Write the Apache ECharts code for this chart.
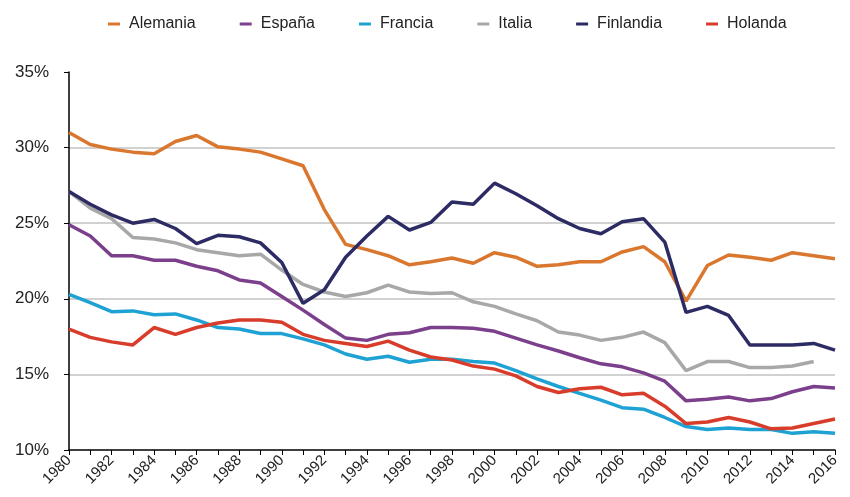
<!DOCTYPE html>
<html><head><meta charset="utf-8">
<script src="https://cdn.jsdelivr.net/npm/echarts@6/dist/echarts.min.js"></script>
<style>html,body{margin:0;padding:0;background:#fff}#c{width:850px;height:497px}</style>
</head><body><div id="c"></div>
<script>
const years = [];
for (let y = 1980; y <= 2016; y++) years.push(String(y));
const seriesNames = ['Alemania','España','Francia','Italia','Finlandia','Holanda'];
const colors = ['#DA772E','#7B3F8B','#1EA2D4','#A9A8A9','#2D2B63','#D83D2B'];
const alemania = [31.0,30.2,29.9,29.7,29.6,30.4,30.8,30.05,29.9,29.7,29.25,28.8,25.9,23.6,23.25,22.85,22.25,22.45,22.7,22.35,23.05,22.75,22.15,22.25,22.45,22.45,23.1,23.45,22.45,19.85,22.2,22.9,22.75,22.55,23.05,22.85,22.65];
const espana = [24.9,24.15,22.85,22.85,22.55,22.55,22.15,21.85,21.25,21.05,20.15,19.25,18.3,17.4,17.25,17.65,17.75,18.1,18.1,18.05,17.85,17.4,16.95,16.55,16.1,15.7,15.5,15.1,14.55,13.25,13.35,13.5,13.25,13.4,13.85,14.2,14.1];
const francia = [20.3,19.75,19.15,19.2,18.95,19.0,18.6,18.1,18.0,17.7,17.7,17.35,16.95,16.35,16.0,16.2,15.8,16.0,16.0,15.85,15.75,15.25,14.7,14.2,13.75,13.3,12.8,12.7,12.15,11.55,11.35,11.45,11.35,11.35,11.1,11.2,11.1];
const italia = [27.1,26.0,25.3,24.05,23.95,23.7,23.25,23.05,22.85,22.95,21.9,20.95,20.45,20.15,20.4,20.9,20.45,20.35,20.4,19.8,19.5,19.0,18.55,17.8,17.6,17.25,17.45,17.8,17.1,15.25,15.85,15.85,15.45,15.45,15.55,15.85,null];
const finlandia = [27.1,26.25,25.55,25.0,25.25,24.65,23.65,24.2,24.1,23.7,22.4,19.7,20.6,22.75,24.15,25.45,24.55,25.05,26.4,26.25,27.65,26.95,26.15,25.3,24.65,24.3,25.1,25.3,23.75,19.1,19.5,18.9,16.95,16.95,16.95,17.05,16.6];
const holanda = [18.0,17.45,17.15,16.95,18.1,17.65,18.1,18.4,18.6,18.6,18.45,17.65,17.25,17.05,16.85,17.2,16.6,16.15,15.95,15.55,15.35,14.9,14.2,13.8,14.05,14.15,13.65,13.75,12.9,11.75,11.85,12.15,11.85,11.4,11.45,11.75,12.05];
const yTicks = [10,15,20,25,30,35];
const dataArr = [alemania, espana, francia, italia, finlandia, holanda];

const FONT = '"Liberation Sans", Arial, sans-serif';
const chart = echarts.init(document.getElementById('c'));
chart.setOption({
  animation: false,
  color: colors,
  legend: {
    top: 11, left: 103, itemGap: 44, itemWidth: 12, itemHeight: 3,
    icon: 'rect',
    textStyle: { fontFamily: FONT, fontSize: 16, color: '#222', padding: [0, 0, 0, 4] },
    data: seriesNames
  },
  grid: { left: 69, right: 15, top: 72, bottom: 47 },
  xAxis: {
    type: 'category', boundaryGap: false, data: years,
    axisLine: { lineStyle: { color: '#000', width: 1.5 } },
    axisTick: { show: true, length: 5, interval: 0, lineStyle: { color: '#000' } },
    axisLabel: { interval: 1, rotate: 45, fontFamily: FONT, fontSize: 15, color: '#222', margin: 8 },
    splitLine: { show: false }
  },
  yAxis: {
    type: 'value', min: yTicks[0], max: yTicks[yTicks.length-1], interval: 5,
    axisLine: { show: true, lineStyle: { color: '#000', width: 1.5 } },
    axisTick: { show: true, length: 5, lineStyle: { color: '#000' } },
    axisLabel: { formatter: '{value}%', fontFamily: FONT, fontSize: 17, color: '#222', margin: 20 },
    splitLine: { show: true, lineStyle: { color: ['rgba(0,0,0,0)','#c2c2c2','#c2c2c2','#c2c2c2','#c2c2c2','rgba(0,0,0,0)'], width: 1.5 } }
  },
  series: seriesNames.map((n, i) => ({
    name: n, type: 'line', data: dataArr[i], symbol: 'none', smooth: false,
    lineStyle: { width: 3.5, color: colors[i] }, z: 2
  }))
});
</script></body></html>
